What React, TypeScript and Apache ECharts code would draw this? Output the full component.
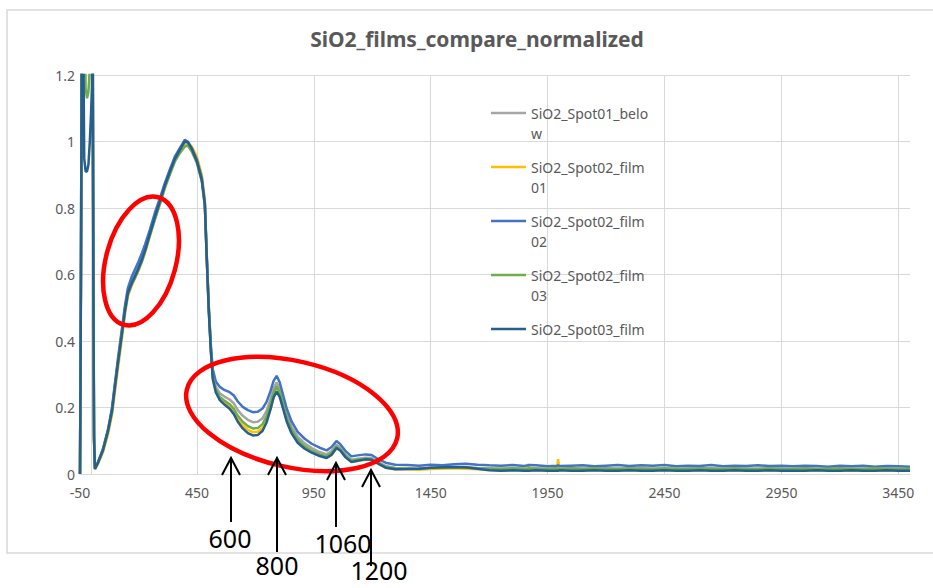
import React, { useEffect, useRef } from "react";
import * as echarts from "echarts";

const chartTitle = "SiO2_films_compare_normalized";
const seriesNames = [
  "SiO2_Spot01_below",
  "SiO2_Spot02_film01",
  "SiO2_Spot02_film02",
  "SiO2_Spot02_film03",
  "SiO2_Spot03_film",
];
const legendLabels = [
  " \nSiO2_Spot01_belo\nw",
  " \nSiO2_Spot02_film\n01",
  " \nSiO2_Spot02_film\n02",
  " \nSiO2_Spot02_film\n03",
  " \nSiO2_Spot03_film\n ",
];
const seriesColors = ["#A5A5A5", "#FFC000", "#4472C4", "#70AD47", "#255E91"];
const xTickLabels = [-50, 450, 950, 1450, 1950, 2450, 2950, 3450];

const wavenumbers = [
  -50, -46, -42, -38, -32, -26, -20, -14, -8, -3,
  1, 4, 7, 10, 14,
  27, 48, 70, 87, 99, 112, 129, 142, 155, 172,
  185, 198, 215, 228, 249, 270, 292, 313, 334, 356,
  377, 398, 411, 428, 450, 471, 484,
  492, 501, 510, 518, 531, 548, 569, 590, 608, 625,
  646, 668, 689, 710, 731, 748, 765, 778, 791, 804,
  817, 834, 855, 881, 911, 941, 975, 1005, 1026, 1047,
  1064, 1086, 1111, 1137, 1171, 1197, 1223, 1257, 1299,
  1350, 1400, 1450, 1500, 1550, 1600, 1650, 1700, 1750, 1800,
  1850, 1862, 1866, 1870, 1900, 1950, 1990, 1995, 2000, 2050,
  2100, 2150, 2200, 2250, 2300, 2350, 2400, 2450, 2500, 2550,
  2600, 2650, 2700, 2750, 2800, 2850, 2900, 2950, 3000, 3050,
  3100, 3150, 3200, 3250, 3300, 3350, 3400, 3450, 3500,
];

const spot01Below = [
  0, 0.6, 1.45, 1.6, 1.55, 1.45, 1.4, 1.42, 1.45, 1.5,
  1.52, 1.45, 0.65, 0.11, 0.016,
  0.035, 0.073, 0.132, 0.195, 0.265, 0.338, 0.428, 0.497, 0.552, 0.585,
  0.603, 0.622, 0.652, 0.68, 0.728, 0.778, 0.825, 0.872, 0.912, 0.95,
  0.977, 1.0, 0.997, 0.977, 0.942, 0.886, 0.812,
  0.655, 0.495, 0.375, 0.3, 0.262, 0.243, 0.232, 0.224, 0.212, 0.192,
  0.175, 0.163, 0.156, 0.157, 0.168, 0.19, 0.226, 0.258, 0.275, 0.257,
  0.224, 0.18, 0.142, 0.112, 0.092, 0.078, 0.066, 0.059, 0.069, 0.088,
  0.079, 0.058, 0.043, 0.046, 0.049, 0.048, 0.037, 0.024, 0.018,
  0.017, 0.016, 0.018, 0.019, 0.02, 0.02, 0.018, 0.017, 0.016, 0.017,
  0.016, 0.016, 0.017, 0.016, 0.017, 0.015, 0.016, 0.016, 0.016, 0.017,
  0.016, 0.015, 0.017, 0.016, 0.015, 0.017, 0.016, 0.016, 0.015, 0.016,
  0.016, 0.017, 0.015, 0.016, 0.016, 0.015, 0.016, 0.016, 0.015, 0.016,
  0.015, 0.016, 0.015, 0.016, 0.015, 0.015, 0.016, 0.015, 0.015,
];

const spot02Film01 = [
  0, 0.58, 1.4, 1.58, 1.5, 1.42, 1.38, 1.4, 1.44, 1.48,
  1.5, 1.42, 0.62, 0.1, 0.014,
  0.03, 0.065, 0.12, 0.178, 0.245, 0.315, 0.405, 0.478, 0.535, 0.568,
  0.588, 0.608, 0.638, 0.665, 0.715, 0.765, 0.815, 0.862, 0.905, 0.945,
  0.972, 0.99, 0.995, 0.985, 0.955, 0.9, 0.825,
  0.665, 0.505, 0.372, 0.29, 0.25, 0.227, 0.213, 0.202, 0.187, 0.165,
  0.146, 0.133, 0.126, 0.127, 0.139, 0.16, 0.196, 0.23, 0.25, 0.238,
  0.207, 0.165, 0.128, 0.098, 0.079, 0.066, 0.055, 0.049, 0.057, 0.077,
  0.072, 0.052, 0.037, 0.039, 0.043, 0.044, 0.033, 0.02, 0.014,
  0.014, 0.013, 0.015, 0.016, 0.017, 0.016, 0.014, 0.013, 0.012, 0.013,
  0.012, 0.012, 0.03, 0.012, 0.013, 0.012, 0.013, 0.045, 0.013, 0.012,
  0.013, 0.012, 0.012, 0.013, 0.012, 0.012, 0.013, 0.012, 0.012, 0.011,
  0.012, 0.012, 0.011, 0.012, 0.011, 0.012, 0.011, 0.012, 0.011, 0.011,
  0.012, 0.011, 0.011, 0.01, 0.011, 0.011, 0.01, 0.011, 0.011,
];

const spot02Film02 = [
  0, 0.62, 1.48, 1.62, 1.5, 1.4, 1.35, 1.38, 1.42, 1.48,
  1.5, 1.46, 0.7, 0.12, 0.02,
  0.036, 0.075, 0.135, 0.2, 0.27, 0.345, 0.435, 0.505, 0.56, 0.595,
  0.615, 0.635, 0.665, 0.69, 0.735, 0.785, 0.83, 0.875, 0.915, 0.955,
  0.98, 1.005, 1.0, 0.98, 0.945, 0.89, 0.815,
  0.66, 0.5, 0.385, 0.315, 0.278, 0.262, 0.252, 0.246, 0.236, 0.218,
  0.202, 0.192, 0.186, 0.187, 0.197, 0.217, 0.25, 0.28, 0.295, 0.276,
  0.242, 0.197, 0.158, 0.127, 0.106, 0.091, 0.079, 0.071, 0.081, 0.099,
  0.089, 0.069, 0.053, 0.056, 0.059, 0.057, 0.046, 0.034, 0.028,
  0.027, 0.025, 0.028, 0.026, 0.029, 0.031, 0.028, 0.026, 0.025, 0.027,
  0.024, 0.026, 0.025, 0.027, 0.026, 0.023, 0.025, 0.026, 0.024, 0.025,
  0.026, 0.023, 0.025, 0.027, 0.024, 0.026, 0.025, 0.027, 0.023, 0.025,
  0.024, 0.027, 0.023, 0.025, 0.024, 0.026, 0.024, 0.025, 0.023, 0.025,
  0.024, 0.022, 0.025, 0.023, 0.025, 0.022, 0.024, 0.023, 0.022,
];

const spot02Film03 = [
  0, 0.6, 1.45, 1.6, 1.52, 1.16, 1.13, 1.15, 1.22, 1.4,
  1.5, 1.44, 0.66, 0.11, 0.016,
  0.034, 0.07, 0.128, 0.188, 0.258, 0.33, 0.42, 0.488, 0.54, 0.572,
  0.59, 0.61, 0.64, 0.668, 0.718, 0.765, 0.812, 0.86, 0.9, 0.94,
  0.965, 0.985, 0.988, 0.97, 0.935, 0.88, 0.805,
  0.65, 0.49, 0.37, 0.292, 0.254, 0.232, 0.22, 0.21, 0.196, 0.175,
  0.157, 0.144, 0.137, 0.138, 0.15, 0.174, 0.212, 0.245, 0.263, 0.246,
  0.213, 0.17, 0.133, 0.103, 0.083, 0.07, 0.059, 0.053, 0.063, 0.083,
  0.074, 0.054, 0.04, 0.043, 0.046, 0.045, 0.034, 0.022, 0.017,
  0.016, 0.016, 0.018, 0.019, 0.02, 0.019, 0.017, 0.016, 0.016, 0.017,
  0.016, 0.016, 0.016, 0.017, 0.016, 0.016, 0.017, 0.016, 0.016, 0.017,
  0.016, 0.017, 0.016, 0.016, 0.017, 0.016, 0.016, 0.017, 0.016, 0.016,
  0.017, 0.016, 0.016, 0.017, 0.016, 0.016, 0.017, 0.016, 0.016, 0.017,
  0.016, 0.016, 0.017, 0.016, 0.016, 0.017, 0.016, 0.016, 0.016,
];

const spot03Film = [
  0, 0.55, 1.35, 1.5, 0.95, 0.91, 0.91, 0.93, 1.0, 1.08,
  1.16, 1.3, 0.6, 0.1, 0.015,
  0.034, 0.071, 0.13, 0.19, 0.26, 0.332, 0.42, 0.49, 0.545, 0.575,
  0.595, 0.615, 0.645, 0.672, 0.722, 0.772, 0.82, 0.868, 0.908, 0.948,
  0.975, 1.0, 0.998, 0.978, 0.94, 0.884, 0.81,
  0.65, 0.488, 0.365, 0.285, 0.245, 0.222, 0.208, 0.196, 0.18, 0.157,
  0.137, 0.123, 0.116, 0.117, 0.13, 0.155, 0.195, 0.23, 0.248, 0.232,
  0.2, 0.158, 0.122, 0.094, 0.076, 0.064, 0.054, 0.048, 0.058, 0.078,
  0.07, 0.05, 0.036, 0.04, 0.044, 0.043, 0.032, 0.019, 0.014,
  0.015, 0.016, 0.019, 0.02, 0.021, 0.02, 0.016, 0.011, 0.01, 0.011,
  0.01, 0.01, 0.01, 0.01, 0.011, 0.01, 0.01, 0.01, 0.011, 0.01,
  0.01, 0.011, 0.01, 0.01, 0.011, 0.01, 0.01, 0.011, 0.01, 0.01,
  0.011, 0.01, 0.01, 0.011, 0.01, 0.01, 0.011, 0.01, 0.01, 0.01,
  0.011, 0.01, 0.01, 0.011, 0.01, 0.01, 0.011, 0.01, 0.01,
];

const seriesValues = [spot01Below, spot02Film01, spot02Film02, spot02Film03, spot03Film];

// annotation arrows (labels of the peaks being pointed at)
const arrowLabels = ["600", "800", "1060", "1200"];

const FONT = "Noto Sans";

export default function App() {
  const ref = useRef<HTMLDivElement>(null);

  useEffect(() => {
    if (!ref.current) return;
    const chart = echarts.init(ref.current, undefined, { renderer: "svg" });

    const arrowGeom = [
      { x: 231, tip: 458, tail: 522, lx: 230, ly: 538 },
      { x: 277, tip: 458, tail: 552, lx: 277, ly: 565 },
      { x: 336, tip: 463, tail: 527, lx: 343, ly: 543 },
      { x: 371, tip: 470, tail: 566, lx: 379, ly: 570 },
    ];

    const graphics: any[] = [
      {
        type: "rect",
        silent: true,
        z: 0,
        shape: { x: 7, y: 10, width: 960, height: 543 },
        style: { fill: "none", stroke: "#d9d9d9", lineWidth: 1.5 },
      },
      {
        type: "ellipse",
        silent: true,
        z: 100,
        x: 141,
        y: 261,
        rotation: (-15 * Math.PI) / 180,
        shape: { cx: 0, cy: 0, rx: 35, ry: 66 },
        style: { fill: "none", stroke: "#ff0000", lineWidth: 4.5 },
      },
      {
        type: "ellipse",
        silent: true,
        z: 100,
        x: 292,
        y: 414,
        rotation: (-13 * Math.PI) / 180,
        shape: { cx: 0, cy: 0, rx: 108, ry: 53 },
        style: { fill: "none", stroke: "#ff0000", lineWidth: 4.5 },
      },
    ];
    arrowGeom.forEach((a, i) => {
      graphics.push({
        type: "line",
        silent: true,
        z: 101,
        shape: { x1: a.x, y1: a.tip, x2: a.x, y2: a.tail },
        style: { stroke: "#000", lineWidth: 2 },
      });
      graphics.push({
        type: "polyline",
        silent: true,
        z: 101,
        shape: {
          points: [
            [a.x - 9, a.tip + 17],
            [a.x, a.tip],
            [a.x + 9, a.tip + 17],
          ],
        },
        style: { stroke: "#000", lineWidth: 2, fill: "none" },
      });
      graphics.push({
        type: "text",
        silent: true,
        z: 102,
        x: a.lx,
        y: a.ly,
        style: {
          text: arrowLabels[i],
          fill: "#000",
          font: `25px "${FONT}"`,
          align: "center",
          verticalAlign: "middle",
        },
      });
    });

    const series: any[] = seriesNames.map((name, si) => ({
      name,
      type: "line",
      symbol: "none",
      showSymbol: false,
      clip: true,
      z: 2,
      color: seriesColors[si],
      lineStyle: { color: seriesColors[si], width: 2.5 },
      data: wavenumbers.map((x, i) => [x, seriesValues[si][i]]),
    }));
    series[0].markLine = {
      silent: true,
      z: 1,
      symbol: ["none", "none"],
      label: { show: false },
      lineStyle: { color: "#d9d9d9", width: 1, type: "solid" },
      emphasis: { disabled: true },
      data: xTickLabels.map((v) => ({ xAxis: v })),
    };

    chart.setOption({
      animation: false,
      backgroundColor: "#ffffff",
      textStyle: { fontFamily: FONT },
      title: {
        text: chartTitle,
        left: 477,
        top: 28,
        padding: 0,
        textAlign: "center",
        textStyle: {
          fontFamily: FONT,
          fontSize: 21,
          fontWeight: "bold",
          color: "#595959",
        },
      },
      legend: {
        data: seriesNames,
        orient: "vertical",
        left: 491,
        top: 83,
        padding: 0,
        itemGap: -6,
        itemWidth: 35,
        itemHeight: 2.5,
        icon: "rect",
        selectedMode: false,
        formatter: (n: string) => legendLabels[seriesNames.indexOf(n)],
        textStyle: {
          color: "#595959",
          fontSize: 14,
          fontFamily: FONT,
          lineHeight: 20,
        },
      },
      grid: { left: 80, right: 23, top: 75, bottom: 114, containLabel: false },
      xAxis: {
        type: "value",
        min: -50,
        max: 3500,
        axisLine: { show: true, lineStyle: { color: "#d9d9d9", width: 1 } },
        axisTick: { show: false },
        splitLine: { show: false },
        axisLabel: {
          customValues: xTickLabels,
          formatter: (v: number) => String(v),
          color: "#595959",
          fontSize: 14,
          fontFamily: FONT,
          margin: 11,
        },
      },
      yAxis: {
        type: "value",
        min: 0,
        max: 1.2,
        interval: 0.2,
        axisLine: { show: true, lineStyle: { color: "#d9d9d9", width: 1 } },
        axisTick: { show: false },
        splitLine: { show: true, lineStyle: { color: "#d9d9d9", width: 1 } },
        axisLabel: {
          color: "#595959",
          fontSize: 14,
          fontFamily: FONT,
          margin: 5,
        },
      },
      graphic: graphics,
      series,
    });

    return () => {
      chart.dispose();
    };
  }, []);

  return (
    <div
      ref={ref}
      style={{ position: "fixed", left: 0, top: 0, width: 933, height: 588, background: "#fff" }}
    />
  );
}
